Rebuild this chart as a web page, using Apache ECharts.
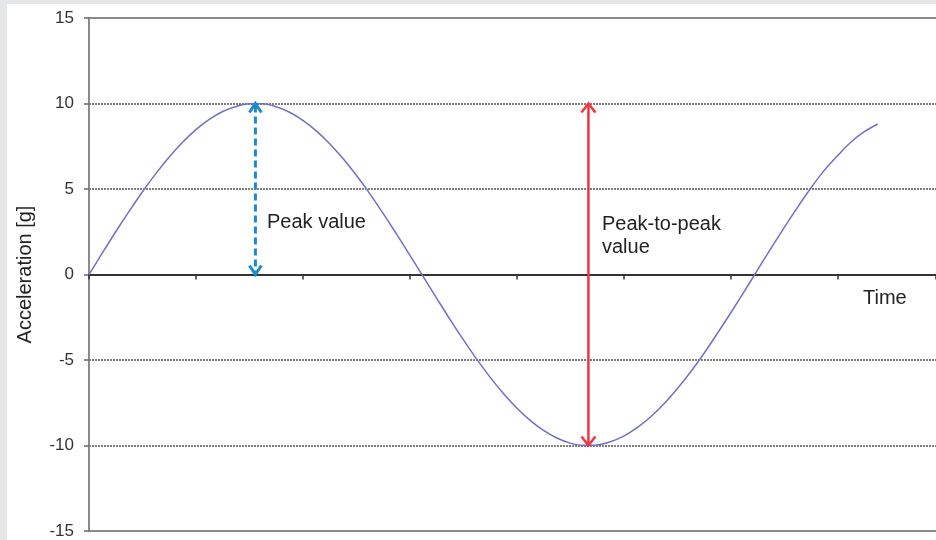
<!DOCTYPE html>
<html>
<head>
<meta charset="utf-8">
<script src="https://cdn.jsdelivr.net/npm/echarts@6/dist/echarts.min.js"></script>
<style>
  html, body { margin: 0; padding: 0; background: #e6e7e9; width: 936px; height: 540px; overflow: hidden; }
  #chart { position: absolute; left: 7px; top: 4px; width: 929px; height: 536px; background: #ffffff; }
</style>
</head>
<body>
<div id="chart"></div>
<script>
// time in tick units (one tick = one unit), acceleration in g
var timeValues = [0, 0.125, 0.25, 0.375, 0.5, 0.625, 0.75, 0.875, 1.0, 1.125, 1.25, 1.375, 1.5, 1.625,
                  1.75, 1.875, 2.0, 2.125, 2.25, 2.375, 2.5, 2.625, 2.75, 2.875, 3.0, 3.125, 3.25, 3.375,
                  3.5, 3.625, 3.75, 3.875, 4.0, 4.125, 4.25, 4.375, 4.5, 4.625, 4.75, 4.875, 5.0, 5.125,
                  5.25, 5.375, 5.5, 5.625, 5.75, 5.875, 6.0, 6.125, 6.25, 6.375, 6.5, 6.625, 6.75, 6.875,
                  7.0, 7.125, 7.25, 7.375];
var accelValues = [0, 1.26, 2.50, 3.69, 4.84, 5.90, 6.87, 7.73, 8.47, 9.07, 9.53, 9.83, 9.98, 9.98,
                   9.81, 9.49, 9.01, 8.40, 7.65, 6.78, 5.80, 4.73, 3.57, 2.37, 1.13, -0.13, -1.38, -2.62,
                   -3.81, -4.95, -6.00, -6.96, -7.81, -8.53, -9.12, -9.56, -9.86, -9.99, -9.97, -9.78, -9.45, -8.96,
                   -8.33, -7.57, -6.68, -5.70, -4.62, -3.45, -2.25, -1.01, 0.25, 1.51, 2.74, 3.93, 5.06, 6.09,
                   6.95, 7.75, 8.35, 8.80];
var yTicks = [-15, -10, -5, 0, 5, 10, 15];

// arrows: [time, from, to]
var peakArrow = [1.556, 0, 10];
var peakToPeakArrow = [4.67, -10, 10];

var fontFam = '"Liberation Sans", Arial, Helvetica, sans-serif';

var chart = echarts.init(document.getElementById('chart'));

function arrowItem(color, width, dash, headW, headH) {
    return function (params, api) {
        var top = api.coord([api.value(0), api.value(2)]);
        var bot = api.coord([api.value(0), api.value(1)]);
        var x = top[0];
        var style = { stroke: color, lineWidth: width, fill: null };
        return {
            type: 'group',
            children: [
                { type: 'line', shape: { x1: x, y1: top[1] + 2, x2: x, y2: bot[1] - 2 },
                  style: { stroke: color, lineWidth: width, lineDash: dash } },
                { type: 'polyline', shape: { points: [[x - headW, top[1] + headH], [x, top[1]], [x + headW, top[1] + headH]] },
                  style: style },
                { type: 'polyline', shape: { points: [[x - headW, bot[1] - headH], [x, bot[1]], [x + headW, bot[1] - headH]] },
                  style: style }
            ]
        };
    };
}

var lineData = [];
for (var i = 0; i < timeValues.length; i++) {
    lineData.push([timeValues[i], accelValues[i]]);
}

var option = {
    animation: false,
    backgroundColor: '#ffffff',
    grid: {
        left: 80, top: 14, right: 0, bottom: 9,
        show: false
    },
    xAxis: {
        type: 'value',
        min: 0,
        max: 7.92,
        interval: 1,
        axisLine: { onZero: true, lineStyle: { color: '#333333', width: 2 } },
        axisTick: { show: true, inside: false, length: 5, lineStyle: { color: '#333333', width: 1.5 } },
        axisLabel: { show: false },
        splitLine: { show: false }
    },
    yAxis: {
        type: 'value',
        min: yTicks[0],
        max: yTicks[yTicks.length - 1],
        interval: 5,
        name: 'Acceleration [g]',
        nameLocation: 'middle',
        nameRotate: 90,
        nameGap: 54,
        nameTextStyle: { fontFamily: fontFam, fontSize: 20, color: '#222222' },
        axisLine: { show: true, lineStyle: { color: '#8a8a8a', width: 2 } },
        axisTick: { show: true, length: 5, lineStyle: { color: '#666666', width: 1.5 } },
        axisLabel: { fontFamily: fontFam, fontSize: 17, color: '#333333', margin: 15 },
        splitLine: { show: true, lineStyle: { color: '#555555', type: [2, 1], width: 1.5 } }
    },
    series: [
        {
            type: 'line',
            data: lineData,
            smooth: 0.3,
            showSymbol: false,
            lineStyle: { color: '#6e72c2', width: 1.5 },
            z: 3,
            markLine: {
                silent: true,
                symbol: 'none',
                label: { show: false },
                lineStyle: { color: '#8a8a8a', type: 'solid', width: 2 },
                data: [{ yAxis: yTicks[0] }, { yAxis: yTicks[yTicks.length - 1] }]
            }
        },
        {
            type: 'custom',
            renderItem: arrowItem('#1b8ad2', 3, [7, 4], 6, 9),
            data: [peakArrow],
            z: 4
        },
        {
            type: 'custom',
            renderItem: arrowItem('#f0353f', 2.5, null, 7, 9),
            data: [peakToPeakArrow],
            z: 4
        }
    ],
    graphic: [
        { type: 'text', left: 260, top: 208,
          style: { text: 'Peak value', font: '20px ' + fontFam, fill: '#222222' } },
        { type: 'text', left: 595, top: 209,
          style: { text: 'Peak-to-peak\nvalue', font: '20px ' + fontFam, fill: '#222222', lineHeight: 23 } },
        { type: 'text', left: 856, top: 284,
          style: { text: 'Time', font: '20px ' + fontFam, fill: '#222222' } }
    ]
};

chart.setOption(option);
</script>
</body>
</html>
